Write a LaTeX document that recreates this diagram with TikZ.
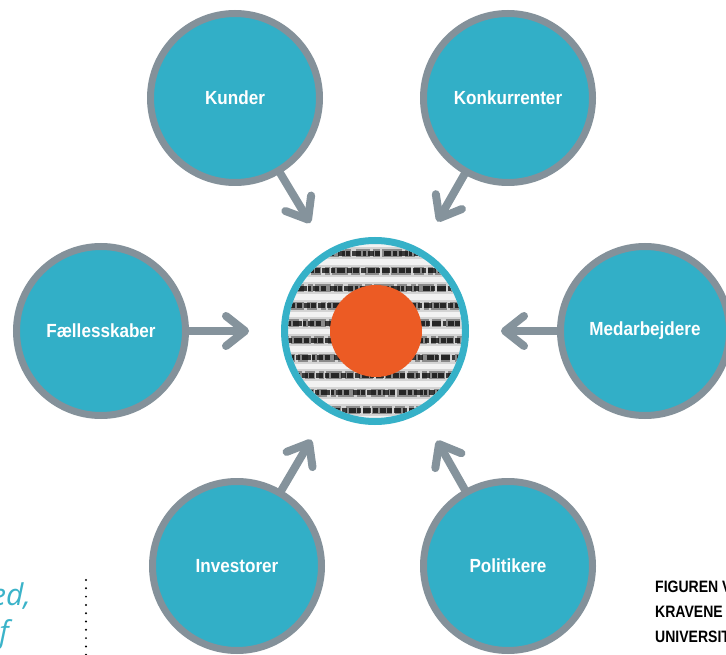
\documentclass[tikz,border=0pt]{standalone}
\usepackage{fontspec}
\newfontfamily\labfont{Liberation Sans}[FakeStretch=0.9]
\newfontfamily\capfont{Liberation Sans}[FakeStretch=0.85]
\newfontfamily\itfont{Open Sans}
\usetikzlibrary{arrows.meta,backgrounds}
\definecolor{tealfill}{HTML}{32AFC7}
\definecolor{ringgray}{HTML}{84919A}
\definecolor{arrowgray}{HTML}{85939C}
\definecolor{coreteal}{HTML}{36B1C8}
\definecolor{dotorange}{HTML}{EC5B24}
\definecolor{quoteteal}{HTML}{3BB3C9}
\begin{document}
\begin{tikzpicture}[x=1pt,y=-1pt,
  party/.style={circle, fill=tealfill, draw=ringgray, line width=7pt,
    minimum size=169pt, inner sep=0pt, text=white,
    font={\labfont\bfseries\fontsize{19pt}{19pt}\selectfont}},
  corering/.style={circle, draw=coreteal, line width=7pt, minimum size=181pt, inner sep=0pt},
  flow/.style={draw=arrowgray, line width=8pt, line cap=round,
    -{Straight Barb[length=19pt,width=30pt,round]}, shorten >=32pt},
  blurA/.style={line width=12pt, black, opacity=0.12},
  blurB/.style={line width=8pt, black, opacity=0.35,
    dash pattern=on 14pt off 3pt on 7pt off 2pt on 20pt off 3pt on 10pt off 4pt on 5pt off 2pt on 16pt off 3pt on 9pt off 5pt},
  blurC/.style={line width=5pt, black, opacity=0.72,
    dash pattern=on 6pt off 1.5pt on 5pt off 2pt on 7pt off 1.5pt on 4pt off 2pt on 8pt off 2pt on 5pt off 1.5pt},
  blurD/.style={line width=5pt, black, opacity=0.72,
    dash pattern=on 4pt off 2pt on 9pt off 1.5pt on 3pt off 2pt on 6pt off 1.5pt on 5pt off 4pt on 7pt off 1.5pt},
  captxt/.style={anchor=base west, inner sep=0pt, text=black,
    font={\capfont\bfseries\fontsize{16.5pt}{16.5pt}\selectfont}},
  quotetxt/.style={anchor=base east, inner sep=0pt, text=quoteteal,
    font={\itfont\itshape\fontsize{30pt}{30pt}\selectfont}},
  dots/.style={line width=2.2pt, black, line cap=round, dash pattern=on 0pt off 8.3pt}
]
\useasboundingbox (0,0) rectangle (726,655);
\clip (0,0) rectangle (726,655);

% blurred text inside the core
\coordinate (cc) at (375,331);
\begin{scope}
  \clip (cc) circle (87pt);
  \fill[black!5] (cc) circle (87pt);
  \foreach \yy/\ph/\st in {236/3pt/blurC, 253.4/17pt/blurD, 270.8/8pt/blurC, 288.2/25pt/blurD,
                           305.6/12pt/blurC, 323/30pt/blurD, 340.4/5pt/blurC, 357.8/21pt/blurD,
                           375.2/14pt/blurC, 392.6/2pt/blurD, 410/27pt/blurC, 427.4/9pt/blurD} {
    \draw[blurA] (270,\yy) -- (480,\yy);
    \draw[blurB, dash phase=\ph] (270,\yy) -- (480,\yy);
    \draw[\st, dash phase=\ph] (270,\yy) -- (480,\yy);
  }
\end{scope}
\node[circle, fill=dotorange, minimum size=92pt, inner sep=0pt] (dot) at (376,331) {};
\node[corering] (core) at (cc) {};

% surrounding circles
\node[party] (kunder) at (235,98) {Kunder};
\node[party] (konk) at (508,98) {Konkurrenter};
\node[party] (faell) at (101,331) {Fællesskaber};
\node[party] (medarb) at (645,331) {Medarbejdere};
\node[party] (invest) at (237,566) {Investorer};
\node[party] (polit) at (508,566) {Politikere};

\begin{pgfonlayer}{background}
  \fill[white] (0,0) rectangle (726,655);
  \draw[flow] (kunder) -- (core);
  \draw[flow] (konk) -- (core);
  \draw[flow] (faell) -- (core);
  \draw[flow] (medarb) -- (core);
  \draw[flow] (invest) -- (core);
  \draw[flow] (polit) -- (core);
\end{pgfonlayer}

% cut-off texts
\node[quotetxt] (q1) at (31,605) {ed,};
\node[quotetxt] (q2) at (9,642) {f};
\coordinate (d1) at (86,580);
\coordinate (d2) at (86,662);
\draw[dots] (d1) -- (d2);

\node[captxt] (c1) at (655,592) {FIGUREN V};
\node[captxt] (c2) at (655,617) {KRAVENE};
\node[captxt] (c3) at (655,642) {UNIVERSIT};
\end{tikzpicture}
\end{document}
